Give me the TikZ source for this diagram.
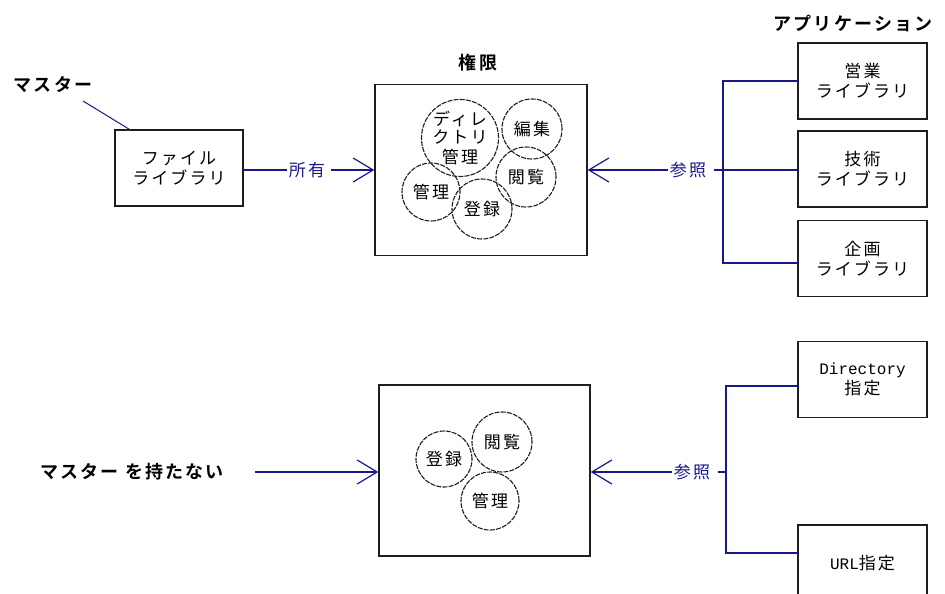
\documentclass[tikz,border=0pt]{standalone}
\usepackage{fontspec}
\newfontfamily\jpfam[LetterSpace=12]{Noto Sans CJK JP}
\newfontfamily\jpbfam[LetterSpace=12]{Noto Sans CJK JP Bold}
\newfontfamily\monofam{Liberation Mono}
\newcommand\jptext{\jpfam\fontsize{17}{20}\selectfont}
\newcommand\jptitle{\jpbfam\fontsize{18}{20}\selectfont}
\newcommand\latintext{\monofam\fontsize{16}{20}\selectfont}
\usetikzlibrary{arrows.meta}
\definecolor{navy}{RGB}{24,24,140}
\definecolor{ink}{RGB}{30,30,30}
\begin{document}
\begin{tikzpicture}[x=1pt,y=-1pt,
  box/.style={draw=ink,line width=1.4pt,minimum width=129pt,minimum height=76pt,inner sep=0pt,align=center,font=\jptext},
  bigbox/.style={draw=ink,line width=1.4pt,minimum width=212pt,minimum height=171pt,inner sep=0pt},
  circ/.style={circle,draw=ink,line width=1.1pt,dash pattern=on 5pt off 1.2pt,inner sep=0pt,align=center,font=\jptext},
  link/.style={draw=navy,line width=1.4pt},
  arr/.style={link,-{Straight Barb[length=20pt,width=24pt,line width=1.2pt]}},
  lbl/.style={font=\jptext,text=navy,fill=white,inner sep=2pt},
  ttl/.style={font=\jptitle,inner sep=0pt}
]
\useasboundingbox (0,0) rectangle (945,594);

% ---------- top section ----------
\node[ttl] (master) at (53,85) {マスター};
\coordinate (m1) at (83,101);
\node[box,minimum width=128pt] (file) at (179,168) {ファイル\\ライブラリ};
\draw[link,line width=1pt] (m1) -- ([xshift=15pt]file.north west);

\node[bigbox] (perm) at (481,170) {};
\node[ttl] (permt) at (478,63) {権限};

\node[circ,minimum size=74pt] (c1) at (460,138) {ディレ\\[-2pt]クトリ\\管理};
\node[circ,minimum size=60pt] (c2) at (532,129) {編集};
\node[circ,minimum size=60pt] (c3) at (526,177) {閲覧};
\node[circ,minimum size=58pt] (c4) at (431,192) {管理};
\node[circ,minimum size=60pt] (c5) at (482,209) {登録};

\node[lbl] (own) at (307,170) {所有};
\draw[link] (file.east |- own) -- (own.west);
\draw[arr] ([xshift=4pt]own.east) -- (perm.west);

\node[ttl] (app) at (853,23) {アプリケーション};
\node[box] (a1) at (862.5,81) {営業\\ライブラリ};
\node[box] (a2) at (862.5,169) {技術\\ライブラリ};
\node[box] (a3) at (862.5,258.5) {企画\\ライブラリ};

\coordinate (j1) at (723,170);
\node[lbl] (ref1) at (688,170) {参照};
\draw[link] (a1.west) -| (j1) |- ([yshift=-4.5pt]a3.west);
\draw[link] (a2.west |- j1) -- ([xshift=6pt]ref1.east);
\draw[arr] (ref1.west) -- (perm.east);

% ---------- bottom section ----------
\node[bigbox,minimum width=211pt] (perm2) at (484.5,470.5) {};
\node[circ,minimum size=56pt] (d1) at (444,459) {登録};
\node[circ,minimum size=60pt] (d2) at (502,442) {閲覧};
\node[circ,minimum size=58pt] (d3) at (490,501) {管理};

\node[ttl] (nomaster) at (132,472) {マスター を持たない};
\coordinate (n1) at (255,472);
\draw[arr] (n1) -- (perm2.west |- n1);

\node[box] (dir) at (862.5,379.5) {{\latintext Directory}\\指定};
\node[box] (url) at (862.5,563) {{\latintext URL}指定};

\coordinate (j2) at (726,472);
\node[lbl] (ref2) at (692,472) {参照};
\draw[link] ([yshift=-6.5pt]dir.west) -| (j2) |- ([yshift=10pt]url.west);
\draw[link] (j2) -- ([xshift=6pt]ref2.east);
\draw[arr] (ref2.west) -- (perm2.east |- ref2);
\end{tikzpicture}
\end{document}
